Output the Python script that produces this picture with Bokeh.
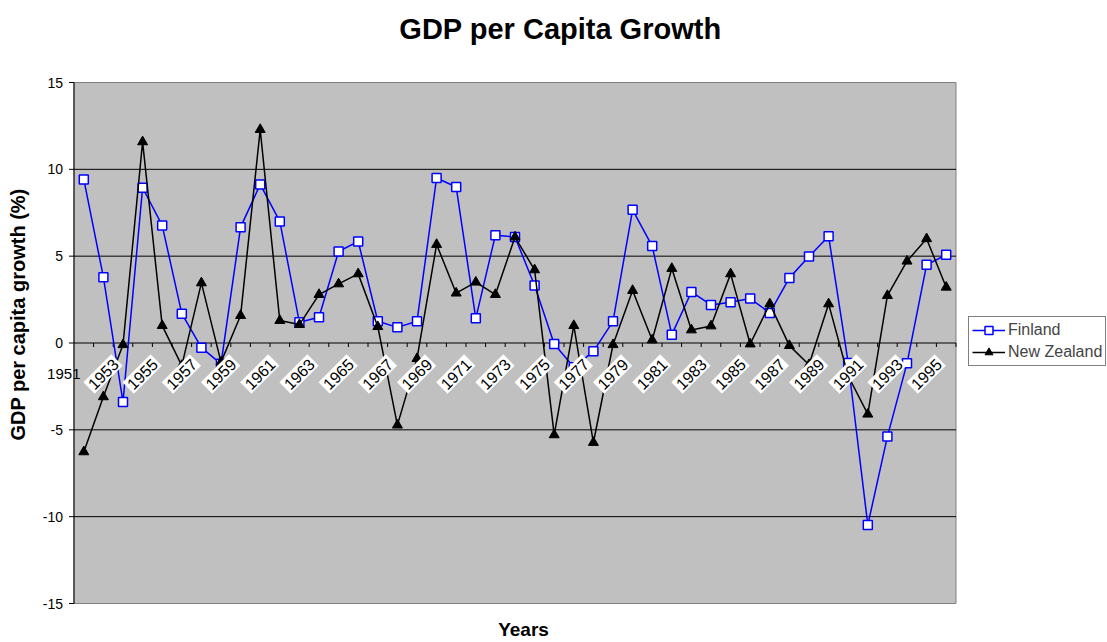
import math
from bokeh.plotting import figure
from bokeh.models import Range1d, Legend, LegendItem, Label, ColumnDataSource
from bokeh.embed import file_html
from bokeh.resources import INLINE
from bokeh.core.properties import value

years = list(range(1951, 1996))
finland = [9.42, 3.79, -3.4, 8.94, 6.77, 1.69, -0.27, -1.2, 6.67, 9.13,
           7.0, 1.19, 1.48, 5.27, 5.85, 1.25, 0.90, 1.25, 9.50, 8.98,
           1.42, 6.21, 6.10, 3.31, -0.06, -1.4, -0.48, 1.25, 7.67, 5.58,
           0.48, 2.94, 2.19, 2.35, 2.56, 1.73, 3.75, 4.98, 6.15, -1.15,
           -10.48, -5.39, -1.17, 4.5, 5.08]
new_zealand = [-6.27, -3.1, -0.1, 11.58, 1.0, -1.3, 3.46, -1.1, 1.58, 12.29,
               1.29, 1.06, 2.79, 3.40, 3.98, 0.94, -4.73, -0.9, 5.67, 2.87,
               3.5, 2.79, 6.10, 4.21, -5.29, 1.0, -5.73, -0.1, 3.02, 0.17,
               4.29, 0.75, 0.98, 3.98, -0.06, 2.25, -0.15, -1.25, 2.25, -1.9,
               -4.1, 2.73, 4.71, 6.0, 3.21]
y_ticks = [-15, -10, -5, 0, 5, 10, 15]
y_tick_labels = ["-15", "-10", "-5", "0", "5", "10", "15"]
grid_ticks = [-10, -5, 5, 10]
series_names = ["Finland", "New Zealand"]

# ---- page / plot-area geometry (pixels) ----
W, H = 1107, 642
X0, PLOT_W = 73.5, 882          # grey plot area left edge and width
Y0, PLOT_H = 82, 521            # grey plot area top edge and height
FONT_NAME = "Liberation Sans"
FONT = value(FONT_NAME)

n = len(years)
idx = list(range(n))
x_lo, x_hi = -0.5, n - 0.5
y_lo, y_hi = y_ticks[0], y_ticks[-1]
PX_X = PLOT_W / (x_hi - x_lo)
PX_Y = PLOT_H / (y_hi - y_lo)


def xd(px):
    return x_lo + (px - X0) / PX_X


def yd(py):
    return y_lo + (Y0 + PLOT_H - py) / PX_Y


# frame covers the whole canvas; the grey plot area is drawn inside it
p = figure(width=W, height=H, x_range=Range1d(xd(0), xd(W)),
           y_range=Range1d(yd(H), yd(0)), output_backend="svg",
           toolbar_location=None, tools="", title=None,
           x_axis_location=None, y_axis_location=None,
           min_border=0, min_border_left=0, min_border_right=0,
           min_border_top=0, min_border_bottom=0)
p.background_fill_color = "white"
p.border_fill_color = "white"
p.outline_line_color = None
p.grid.visible = False

# plot area and gridlines
p.quad(left=[x_lo], right=[x_hi], bottom=[y_lo], top=[y_hi],
       fill_color="#C0C0C0", line_color="#808080", line_width=1)
p.segment(x0=[x_lo] * len(grid_ticks), x1=[x_hi] * len(grid_ticks),
          y0=grid_ticks, y1=grid_ticks, line_color="black", line_width=1)

# y axis: line, outward ticks, labels
p.segment(x0=[x_lo], x1=[x_lo], y0=[y_lo], y1=[y_hi], line_color="black", line_width=1)
p.segment(x0=[x_lo - 5 / PX_X] * len(y_ticks), x1=[x_lo] * len(y_ticks),
          y0=y_ticks, y1=y_ticks, line_color="black", line_width=1)
p.text(x=[x_lo] * len(y_ticks), y=y_ticks, text=y_tick_labels, x_offset=-11,
       text_align="right", text_baseline="middle", text_font=FONT,
       text_font_size="14px", text_color="black")

# x axis at zero: line and downward ticks at category boundaries
bounds = [i + 0.5 for i in idx]
p.segment(x0=[x_lo], x1=[x_hi], y0=[0], y1=[0], line_color="black", line_width=1)
p.segment(x0=bounds, x1=bounds, y0=[0] * n, y1=[-4 / PX_Y] * n,
          line_color="black", line_width=1)

# series
fl = p.line(idx, finland, line_color="#0000FF", line_width=1.5)
fs = p.scatter(idx, finland, marker="square", size=9, fill_color="white",
               line_color="#0000FF", line_width=1.5)
nl = p.line(idx, new_zealand, line_color="black", line_width=1.5)
ns = p.scatter(idx, new_zealand, marker="triangle", size=10, fill_color="black",
               line_color="black")

# category labels: first one horizontal, the rest rotated in white boxes
lab_src = ColumnDataSource(dict(x=idx[2::2], y=[0] * len(idx[2::2]),
                                text=[str(y) for y in years[2::2]]))
p.text(x="x", y="y", text="text", source=lab_src, angle=math.pi / 4,
       text_align="center", text_baseline="middle", x_offset=-20, y_offset=31,
       text_font=FONT, text_font_size="16px", text_color="black",
       background_fill_color="white", padding=2)
p.text(x=idx[:1], y=[0], text=[str(years[0])], text_align="center",
       text_baseline="middle", x_offset=-20, y_offset=31,
       text_font=FONT, text_font_size="15px", text_color="black")

# titles
p.add_layout(Label(x=xd(560), y=yd(28), text="GDP per Capita Growth",
                   text_align="center", text_baseline="alphabetic",
                   text_font=FONT_NAME, text_font_size="29px",
                   text_font_style="bold", text_color="black"))
p.add_layout(Label(x=xd(17), y=yd(314), text="GDP per capita growth (%)",
                   angle=math.pi / 2, text_align="center", text_baseline="middle",
                   text_font=FONT_NAME, text_font_size="20px",
                   text_font_style="bold", text_color="black"))
p.add_layout(Label(x=xd(523), y=yd(629), text="Years",
                   text_align="center", text_baseline="alphabetic",
                   text_font=FONT_NAME, text_font_size="19px",
                   text_font_style="bold", text_color="black"))

legend = Legend(items=[LegendItem(label=series_names[0], renderers=[fl, fs]),
                       LegendItem(label=series_names[1], renderers=[nl, ns])],
                location=(968, H - 366), border_line_color="black", border_line_width=1,
                background_fill_color="white", background_fill_alpha=1,
                label_text_font=FONT_NAME, label_text_font_size="16px",
                glyph_width=33, glyph_height=20, label_height=20, spacing=2,
                padding=3, margin=0, label_standoff=3)
p.add_layout(legend)

open("out.html", "w").write(file_html(p, INLINE))
